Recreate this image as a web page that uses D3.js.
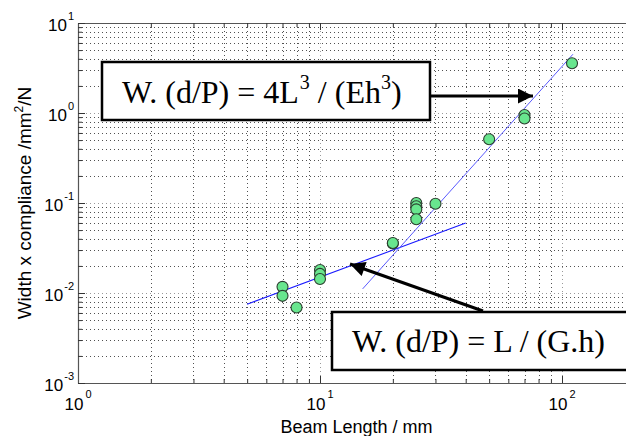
<!DOCTYPE html>
<html>
<head>
<meta charset="utf-8">
<script src="https://cdn.jsdelivr.net/npm/d3@7"></script>
<style>
  html, body { margin: 0; padding: 0; background: #fff; }
  svg { display: block; }
</style>
</head>
<body>
<svg id="chart" width="626" height="436"></svg>
<script>
// ---------------- data ----------------
const beamLength = [7, 7, 8, 10, 10, 10, 20, 20, 25, 25, 25, 25, 30, 50, 70, 70, 110];
const compliance = [0.0117, 0.0093, 0.0069, 0.018, 0.0163, 0.0143, 0.0355, 0.036,
                    0.1, 0.092, 0.085, 0.066, 0.098, 0.51, 0.95, 0.87, 3.57];

// shear fit  W.(d/P) = L/(G.h)  (slope 1 in log-log)
const shearFitL = [5, 40];
const shearFitY = [0.0075, 0.06];
// bending fit  W.(d/P) = 4L^3/(Eh^3)  (slope 3 in log-log)
const bendFitL = [15, 111];
const bendFitY = [0.0111, 4.5];

const xTickExponents = [0, 1, 2];
const yTickExponents = [-3, -2, -1, 0, 1];
const xDomain = [1, 200];
const yDomain = [1e-3, 10];

const xLabel = "Beam Length / mm";
const yLabelParts = ["Width x compliance /mm", "2", "/N"];
const bendEq = ["W. (d/P) = 4L", "3", " / (Eh", "3", ")"];
const shearEq = "W. (d/P) = L / (G.h)";

(function () {
// ---------------- layout ----------------
const mLeft = 78, mTop = 23, mBottom = 383, decadeX = 242;
const svg = d3.select("#chart");
const x = d3.scaleLog().domain(xDomain).range([mLeft, mLeft + decadeX * Math.log10(xDomain[1])]);
const y = d3.scaleLog().domain(yDomain).range([mBottom, mTop]);
const mRight = x.range()[1];

const tickFont = "Liberation Sans, Arial, Helvetica, sans-serif";

function logTicks(lo, hi) {
  const out = [];
  for (let e = Math.floor(Math.log10(lo)); e <= Math.ceil(Math.log10(hi)); e++) {
    for (let m = 1; m <= 9; m++) {
      const v = m * Math.pow(10, e);
      if (v >= lo * 0.9999 && v <= hi * 1.0001) out.push(v);
    }
  }
  return out;
}
const xAll = logTicks(xDomain[0], xDomain[1]);
const yAll = logTicks(yDomain[0], yDomain[1]);
const isMajor = v => Math.abs(Math.log10(v) - Math.round(Math.log10(v))) < 1e-9;

// ---------------- grid ----------------
const grid = svg.append("g").attr("class", "grid");
grid.selectAll("line.gx").data(xAll.filter(v => v > xDomain[0])).join("line")
  .attr("x1", d => Math.round(x(d)) + 0.5).attr("x2", d => Math.round(x(d)) + 0.5)
  .attr("y1", mTop).attr("y2", mBottom)
  .attr("stroke", d => isMajor(d) ? "#888" : "#333")
  .attr("stroke-opacity", 0.85)
  .attr("stroke-width", 1)
  .attr("stroke-dasharray", "1,3");
grid.selectAll("line.gy").data(yAll.filter(v => v > yDomain[0] && v < yDomain[1])).join("line")
  .attr("x1", mLeft).attr("x2", mRight)
  .attr("y1", d => Math.round(y(d)) + 0.5).attr("y2", d => Math.round(y(d)) + 0.5)
  .attr("stroke", d => isMajor(d) ? "#888" : "#333")
  .attr("stroke-opacity", 0.85)
  .attr("stroke-width", 1)
  .attr("stroke-dasharray", "1,3");

// ---------------- axes (ticks inside) ----------------
const axB = svg.append("g").attr("transform", `translate(0,${mBottom})`)
  .call(d3.axisBottom(x).tickValues(xAll).tickSizeOuter(0).tickSizeInner(0).tickFormat(""));
const axT = svg.append("g").attr("transform", `translate(0,${mTop})`)
  .call(d3.axisTop(x).tickValues(xAll).tickSizeOuter(0).tickSizeInner(0).tickFormat(""));
const axL = svg.append("g").attr("transform", `translate(${mLeft},0)`)
  .call(d3.axisLeft(y).tickValues(yAll).tickSizeOuter(0).tickSizeInner(0).tickFormat(""));
[axB, axT, axL].forEach(g => {
  g.select(".domain").attr("stroke", "#555").attr("stroke-width", 1.2);
});
axB.selectAll(".tick line").attr("y2", d => isMajor(d) ? -7 : -4).attr("stroke", "#333");
axT.selectAll(".tick line").attr("y2", d => isMajor(d) ? 7 : 4).attr("stroke", "#333");
axL.selectAll(".tick line").attr("x2", d => isMajor(d) ? 7 : 4).attr("stroke", "#333");

// tick labels with superscripts
const xl = svg.append("g").attr("font-family", tickFont).attr("fill", "#000");
xTickExponents.forEach(e => {
  const t = xl.append("text")
    .attr("x", x(Math.pow(10, e))).attr("y", mBottom + 27)
    .attr("text-anchor", "middle").attr("font-size", 17);
  t.append("tspan").text("10");
  t.append("tspan").attr("font-size", 11).attr("dy", -12).attr("dx", 2).text(String(e));
});
const yl = svg.append("g").attr("font-family", tickFont).attr("fill", "#000");
yTickExponents.forEach(e => {
  const t = yl.append("text")
    .attr("x", mLeft - 4).attr("y", y(Math.pow(10, e)) + 8)
    .attr("text-anchor", "end").attr("font-size", 17);
  t.append("tspan").text("10");
  t.append("tspan").attr("font-size", 11).attr("dy", -11).attr("dx", 1).text(String(e));
});

// axis titles
svg.append("text")
  .attr("x", (mLeft + mRight) / 2).attr("y", 433)
  .attr("text-anchor", "middle").attr("font-family", tickFont).attr("font-size", 18)
  .text(xLabel);
const yt = svg.append("text")
  .attr("transform", `translate(31,${(mTop + mBottom) / 2}) rotate(-90)`)
  .attr("text-anchor", "middle").attr("font-family", tickFont).attr("font-size", 19);
yt.append("tspan").text(yLabelParts[0]);
yt.append("tspan").attr("font-size", 12).attr("dy", -8).text(yLabelParts[1]);
yt.append("tspan").attr("dy", 8).text(yLabelParts[2]);

// ---------------- fit lines ----------------
const line = d3.line().x(d => x(d[0])).y(d => y(d[1]));
svg.append("path")
  .datum(shearFitL.map((l, i) => [l, shearFitY[i]]))
  .attr("d", line).attr("fill", "none").attr("stroke", "#1a1aff").attr("stroke-width", 1.1);
svg.append("path")
  .datum(bendFitL.map((l, i) => [l, bendFitY[i]]))
  .attr("d", line).attr("fill", "none").attr("stroke", "#5a5aff").attr("stroke-width", 1);

// ---------------- data points ----------------
svg.append("g").selectAll("circle")
  .data(beamLength.map((l, i) => [l, compliance[i]]))
  .join("circle")
  .attr("cx", d => x(d[0])).attr("cy", d => y(d[1]))
  .attr("r", 5.5)
  .attr("fill", "#68e68e")
  .attr("stroke", "#2b3d2f").attr("stroke-width", 1.1);

// ---------------- annotations ----------------
const serif = "Liberation Serif, Times New Roman, serif";
svg.append("defs").append("marker")
  .attr("id", "ah").attr("viewBox", "0 0 10 10").attr("refX", 10).attr("refY", 5)
  .attr("markerUnits", "userSpaceOnUse").attr("markerWidth", 17).attr("markerHeight", 15)
  .attr("orient", "auto")
  .append("path").attr("d", "M0,0 L10,5 L0,10 Z").attr("fill", "#000");

// bending equation box
svg.append("rect").attr("x", 102).attr("y", 62).attr("width", 328).attr("height", 58)
  .attr("fill", "#fff").attr("stroke", "#000").attr("stroke-width", 2.5);
const t1 = svg.append("text").attr("x", 122).attr("y", 103)
  .attr("font-family", serif).attr("font-size", 32);
t1.append("tspan").text(bendEq[0]);
t1.append("tspan").attr("font-size", 20).attr("dy", -14).attr("dx", 1).text(bendEq[1]);
t1.append("tspan").attr("dy", 14).text(bendEq[2]);
t1.append("tspan").attr("font-size", 20).attr("dy", -14).text(bendEq[3]);
t1.append("tspan").attr("dy", 14).text(bendEq[4]);
svg.append("line").attr("x1", 431).attr("y1", 96).attr("x2", 533).attr("y2", 96)
  .attr("stroke", "#000").attr("stroke-width", 3).attr("marker-end", "url(#ah)");

// shear equation box
svg.append("rect").attr("x", 332).attr("y", 312).attr("width", 320).attr("height", 58)
  .attr("fill", "#fff").attr("stroke", "#000").attr("stroke-width", 2.5);
svg.append("text").attr("x", 352).attr("y", 352)
  .attr("font-family", serif).attr("font-size", 32).text(shearEq);
svg.append("line").attr("x1", 483).attr("y1", 311).attr("x2", 350).attr("y2", 264)
  .attr("stroke", "#000").attr("stroke-width", 3).attr("marker-end", "url(#ah)");
})();
</script>
</body>
</html>
